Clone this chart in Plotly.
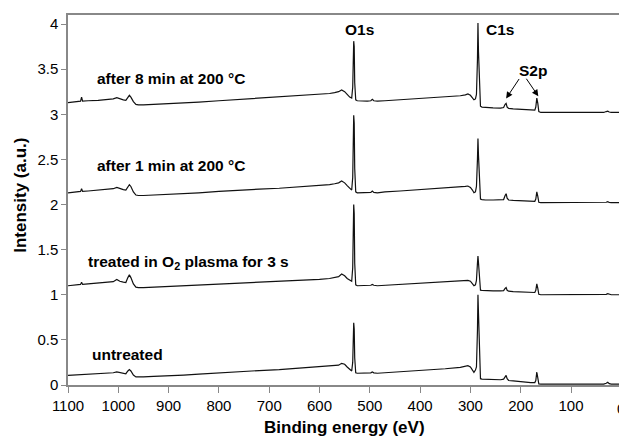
import plotly.graph_objects as go

# Binding energy grid (eV), shared by all spectra
energy = [1100, 1090, 1080, 1075, 1073, 1071, 1060, 1050, 1040, 1030, 1020, 1010, 1003, 997, 990,
          985, 981, 978, 975, 970, 965, 960, 950, 930, 900, 870, 840, 800, 760, 720, 680, 640,
          600, 580, 570, 562, 556, 550, 545, 540, 536, 534, 532, 531, 530, 528, 525, 515, 505,
          498, 495, 492, 485, 470, 440, 410, 380, 350, 320, 310, 305, 300, 296, 293, 290, 288,
          286, 285, 284, 282, 280, 277, 270, 255, 240, 234, 231, 229, 227, 224, 215, 205, 200,
          190, 180, 172, 170, 168, 166, 164, 160, 150, 130, 100, 70, 50, 35, 30, 27, 24, 20, 10, 4]

after_8min = [3.13, 3.135, 3.14, 3.145, 3.19, 3.145, 3.15, 3.15, 3.155, 3.16, 3.165, 3.17, 3.185, 3.17, 3.16,
              3.155, 3.19, 3.21, 3.19, 3.14, 3.11, 3.105, 3.105, 3.11, 3.115, 3.125, 3.135, 3.15, 3.165, 3.18, 3.19, 3.205,
              3.22, 3.23, 3.24, 3.25, 3.27, 3.25, 3.22, 3.19, 3.18, 3.3, 3.81, 3.75, 3.35, 3.16, 3.15, 3.145, 3.145,
              3.15, 3.165, 3.15, 3.145, 3.15, 3.16, 3.17, 3.18, 3.19, 3.205, 3.215, 3.225, 3.21, 3.18, 3.16, 3.17, 3.22,
              3.6, 4.01, 3.7, 3.25, 3.09, 3.08, 3.075, 3.07, 3.068, 3.075, 3.11, 3.12, 3.08, 3.065, 3.06, 3.057, 3.055,
              3.05, 3.045, 3.045, 3.08, 3.18, 3.12, 3.03, 3.02, 3.02, 3.02, 3.02, 3.02, 3.02, 3.02, 3.03, 3.035, 3.025, 3.02, 3.02, 3.02]

after_1min = [2.13, 2.135, 2.14, 2.145, 2.175, 2.145, 2.15, 2.155, 2.16, 2.165, 2.17, 2.175, 2.19, 2.175, 2.165,
              2.16, 2.2, 2.22, 2.2, 2.14, 2.105, 2.1, 2.1, 2.105, 2.11, 2.12, 2.13, 2.145, 2.16, 2.17, 2.18, 2.195,
              2.21, 2.22, 2.23, 2.24, 2.26, 2.24, 2.21, 2.18, 2.16, 2.3, 2.99, 2.9, 2.4, 2.14, 2.13, 2.13, 2.13,
              2.135, 2.15, 2.135, 2.13, 2.14, 2.15, 2.16, 2.17, 2.18, 2.19, 2.2, 2.205, 2.19, 2.16, 2.13, 2.14, 2.2,
              2.5, 2.73, 2.55, 2.2, 2.06, 2.055, 2.05, 2.05, 2.048, 2.055, 2.1, 2.12, 2.07, 2.05, 2.045, 2.043, 2.04,
              2.037, 2.035, 2.035, 2.06, 2.14, 2.09, 2.025, 2.02, 2.02, 2.02, 2.02, 2.02, 2.02, 2.02, 2.025, 2.032, 2.022, 2.02, 2.02, 2.02]

o2_plasma = [1.10, 1.105, 1.11, 1.115, 1.14, 1.115, 1.12, 1.125, 1.13, 1.135, 1.14, 1.145, 1.17, 1.15, 1.14,
             1.135, 1.19, 1.22, 1.19, 1.12, 1.085, 1.08, 1.08, 1.085, 1.09, 1.1, 1.11, 1.12, 1.13, 1.14, 1.15, 1.16,
             1.17, 1.18, 1.19, 1.2, 1.23, 1.21, 1.18, 1.16, 1.15, 1.3, 2.0, 1.9, 1.35, 1.11, 1.10, 1.10, 1.10,
             1.105, 1.115, 1.105, 1.10, 1.105, 1.11, 1.12, 1.13, 1.14, 1.15, 1.155, 1.16, 1.15, 1.12, 1.10, 1.11, 1.16,
             1.35, 1.43, 1.36, 1.15, 1.05, 1.048, 1.045, 1.043, 1.042, 1.045, 1.07, 1.08, 1.05, 1.04, 1.035, 1.032, 1.03,
             1.027, 1.025, 1.025, 1.05, 1.12, 1.07, 1.005, 1.0, 1.0, 1.0, 1.0, 1.0, 1.0, 1.0, 1.005, 1.012, 1.003, 1.0, 1.0, 1.0]

untreated = [0.107, 0.11, 0.115, 0.118, 0.12, 0.118, 0.12, 0.123, 0.126, 0.13, 0.133, 0.136, 0.145, 0.14, 0.13,
             0.125, 0.155, 0.17, 0.155, 0.11, 0.09, 0.088, 0.09, 0.095, 0.1, 0.11, 0.12, 0.135, 0.15, 0.16, 0.17, 0.185,
             0.2, 0.205, 0.21, 0.22, 0.24, 0.23, 0.2, 0.17, 0.155, 0.25, 0.69, 0.62, 0.3, 0.135, 0.13, 0.13, 0.13,
             0.135, 0.145, 0.135, 0.13, 0.135, 0.145, 0.155, 0.165, 0.18, 0.195, 0.205, 0.215, 0.2, 0.16, 0.14, 0.165, 0.2,
             0.6, 1.0, 0.8, 0.25, 0.07, 0.065, 0.063, 0.06, 0.058, 0.065, 0.095, 0.107, 0.07, 0.05, 0.045, 0.04, 0.03,
             0.028, 0.027, 0.027, 0.05, 0.144, 0.08, 0.012, 0.01, 0.01, 0.01, 0.01, 0.01, 0.01, 0.01, 0.02, 0.03, 0.015, 0.01, 0.01, 0.01]

x_ticks = [1100, 1000, 900, 800, 700, 600, 500, 400, 300, 200, 100]
y_ticks = [0, 0.5, 1, 1.5, 2, 2.5, 3, 3.5, 4]

FONT = "Liberation Sans, Arial, sans-serif"

fig = go.Figure()
for ys in [untreated, o2_plasma, after_1min, after_8min]:
    fig.add_trace(go.Scatter(x=energy, y=ys, mode="lines",
                             line=dict(color="#111111", width=1.2), showlegend=False,
                             hoverinfo="skip"))

labels = [
    ("after 8 min at 200 °C", 896, 3.40),
    ("after 1 min at 200 °C", 896, 2.43),
    ("treated in O<sub>2</sub> plasma for 3 s", 860, 1.36),
    ("untreated", 981, 0.334),
    ("O1s", 520, 3.935),
    ("C1s", 241, 3.935),
    ("S2p", 175, 3.49),
]
for text, xv, yv in labels:
    fig.add_annotation(x=xv, y=yv, text="<b>" + text + "</b>", showarrow=False,
                       font=dict(family=FONT, size=15.5, color="black"),
                       xanchor="center", yanchor="middle")

# S2p arrows
for tip_x, tip_y, ax, ay in [(229, 3.175, 14, -21), (165, 3.2, -13, -19)]:
    fig.add_annotation(x=tip_x, y=tip_y, text="", showarrow=True, axref="pixel", ayref="pixel",
                       ax=ax, ay=ay, arrowhead=2, arrowsize=1.3, arrowwidth=1, arrowcolor="black")

# Axis titles
fig.add_annotation(xref="paper", yref="paper", x=0.502, y=0, yshift=-42, text="<b>Binding energy (eV)</b>",
                   showarrow=False, font=dict(family=FONT, size=17, color="black"), xanchor="center", yanchor="middle")
fig.add_annotation(xref="paper", yref="paper", x=-0.0853, y=0.514, text="<b>Intensity (a.u.)</b>", textangle=-90,
                   showarrow=False, font=dict(family=FONT, size=17, color="black"), xanchor="center", yanchor="middle")
# partially visible "0" tick label at the cropped right edge
fig.add_annotation(xref="paper", yref="paper", x=1.0042, y=0, yshift=-23, text="0", showarrow=False,
                   font=dict(family=FONT, size=15, color="black"), xanchor="center", yanchor="middle")

fig.update_layout(
    width=619, height=439,
    margin=dict(l=68, r=0, t=15, b=53.5),
    plot_bgcolor="white", paper_bgcolor="white",
    font=dict(family=FONT, size=15, color="black"),
)
fig.update_xaxes(range=[1100, 4.6], tickvals=x_ticks, ticktext=[str(v) for v in x_ticks],
                 showgrid=False, zeroline=False, showline=True, linecolor="#888888", linewidth=1.5,
                 mirror=True, ticks="outside", ticklen=6, tickcolor="#888888", tickwidth=1.2,
                 tickfont=dict(family=FONT, size=15, color="black"))
fig.update_yaxes(range=[0, 4.1], tickvals=y_ticks, ticktext=["0", "0.5", "1", "1.5", "2", "2.5", "3", "3.5", "4"],
                 showgrid=False, zeroline=False, showline=True, linecolor="#888888", linewidth=1.5,
                 ticks="outside", ticklen=5, tickcolor="#888888", tickwidth=1.2,
                 tickfont=dict(family=FONT, size=15, color="black"))

fig.write_html("out.html", config={"displayModeBar": False},
               post_script="document.body.style.margin='0';document.body.style.overflow='hidden';")
